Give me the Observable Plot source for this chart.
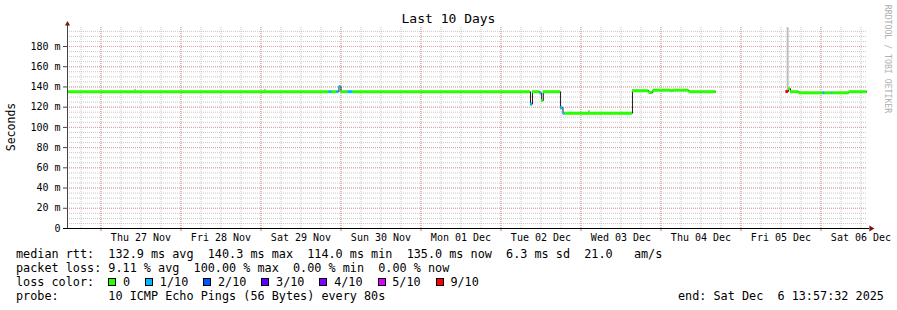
<!DOCTYPE html>
<html><head><meta charset="utf-8">
<script src="https://cdn.jsdelivr.net/npm/d3@7"></script>
<script src="https://cdn.jsdelivr.net/npm/@observablehq/plot@0.6"></script>
<style>
html,body{margin:0;padding:0;background:#fff}
#wrap{position:relative;width:897px;height:310px;background:#fff;overflow:hidden;font-family:"DejaVu Sans Mono",monospace;color:#000}
#chart{position:absolute;left:0;top:0}
#title{position:absolute;left:0;top:11px;width:897px;text-align:center;font-size:13px;line-height:15px;white-space:pre}
#ylab{position:absolute;left:11px;top:127px;transform:translate(-50%,-50%) rotate(-90deg);font-size:11.5px;line-height:13px;white-space:nowrap}
#wm{position:absolute;left:887px;top:59px;transform:translate(-50%,-50%) rotate(90deg);font-size:8.2px;line-height:9px;color:#b0b0b0;white-space:nowrap}
.row{position:absolute;left:16px;font-size:11.8px;line-height:14px;height:14px;white-space:pre}
.box{display:inline-block;width:6px;height:6px;border:1px solid #000;margin-right:6.7px;vertical-align:0px}
.lab{display:inline-block;margin-right:15px}
#end{position:absolute;left:678px;top:289px;font-size:11.8px;line-height:14px;white-space:pre}
</style>
</head><body>
<div id="wrap">
  <div id="chart"></div>
  <div id="title"></div>
  <div id="ylab"></div>
  <div id="wm"></div>
  <div id="legend"></div>
  <div id="end"></div>
</div>
<script>
// ---- data ----
const titleText = "Last 10 Days";
const yLabel = "Seconds";
const watermark = "RRDTOOL / TOBI OETIKER";
const rangeStart = "2025-11-26T13:57:32";
const rangeEnd = "2025-12-06T13:57:32";
const yTop = 198.8;
const yTicks = [0, 20, 40, 60, 80, 100, 120, 140, 160, 180];
const dayTicks = ["2025-11-27","2025-11-28","2025-11-29","2025-11-30","2025-12-01","2025-12-02","2025-12-03","2025-12-04","2025-12-05","2025-12-06"];

// median rtt step segments: start time, median (ms), lost pings of 10 (null median = no data)
const segStart = [
  "2025-11-26T13:58","2025-11-29T20:24","2025-11-29T21:18","2025-11-29T22:48","2025-11-29T23:24",
  "2025-11-30T00:00","2025-11-30T02:06","2025-11-30T03:36","2025-12-02T08:51","2025-12-02T09:27",
  "2025-12-02T11:42","2025-12-02T12:12","2025-12-02T12:42","2025-12-02T17:51","2025-12-02T18:36",
  "2025-12-02T19:12","2025-12-03T15:27","2025-12-03T20:24","2025-12-03T21:36","2025-12-04T03:00",
  "2025-12-04T03:36","2025-12-04T08:24","2025-12-04T16:30","2025-12-05T13:30","2025-12-05T14:15",
  "2025-12-05T14:51","2025-12-05T17:24","2025-12-06T00:36","2025-12-06T01:12","2025-12-06T03:18",
  "2025-12-06T03:36","2025-12-06T08:24"
];
const segMedian = [
  135.3,135.3,135.3,135.3,140.3,
  135.3,135.3,135.3,123.0,135.3,
  134.0,126.5,135.3,119.5,114.0,
  114.0,136.3,134.5,136.8,136.3,
  136.8,135.3,null,135.5,138.3,
  135.3,134.2,134.2,134.2,134.2,
  134.2,135.3
];
const segLoss = [
  0,1,0,1,1,
  0,1,0,1,0,
  1,0,0,1,1,
  0,0,0,0,0,
  0,0,10,9,0,
  0,0,1,0,1,
  0,0
];
const dataEnd = "2025-12-06T13:48";

// smoke (ping spread) bits
const smokeTime = ["2025-11-27T10:12","2025-11-29T01:12","2025-12-03T02:24","2025-12-05T14:00"];
const smokeLo = [136.2, 136.2, 114.8, 135.5];
const smokeHi = [137.6, 137.6, 116.6, 198.6];

// loss colour legend
const lossLevels = [0, 1, 2, 3, 4, 5, 9];
const lossLabels = ["0", "1/10", "2/10", "3/10", "4/10", "5/10", "9/10"];
const lossColors = ["#26ff00", "#00b8ff", "#0059ff", "#5e00ff", "#7e00ff", "#dd00ff", "#ff0000"];

const legendRtt = "median rtt:  132.9 ms avg  140.3 ms max  114.0 ms min  135.0 ms now  6.3 ms sd  21.0   am/s";
const legendLoss = "packet loss: 9.11 % avg  100.00 % max  0.00 % min  0.00 % now";
const legendLossHead = "loss color:  ";
const legendProbe = "probe:       10 ICMP Echo Pings (56 Bytes) every 80s";
const legendEnd = "end: Sat Dec  6 13:57:32 2025";

// ---- build ----
const P = s => new Date(s + (s.length <= 16 ? ":00Z" : "Z"));
const tStart = P(rangeStart), tEnd = P(rangeEnd), tDataEnd = P(dataEnd);

const segs = segStart.map((s, i) => ({
  start: P(s),
  end: i + 1 < segStart.length ? P(segStart[i + 1]) : tDataEnd,
  median: segMedian[i],
  loss: segLoss[i]
}));
const drawn = segs.filter(d => d.median != null);

const linePts = [];
segs.forEach((d, i) => {
  if (d.median == null) { linePts.push({t: d.start, v: NaN}); return; }
  linePts.push({t: d.start, v: d.median});
  const nx = segs[i + 1];
  if (!nx || nx.median == null) linePts.push({t: d.end, v: d.median});
});

const smoke = smokeTime.map((t, i) => ({t: P(t), lo: smokeLo[i], hi: smokeHi[i]}));

const days = dayTicks.map(d => P(d + "T00:00"));
const noons = days.map(d => d3.utcHour.offset(d, 12));
const sixHours = d3.utcHour.every(6).range(tStart, tEnd);
const minorY = d3.range(5, yTop, 5);

const chart = Plot.plot({
  width: 897, height: 310,
  marginLeft: 67, marginRight: 30, marginTop: 27, marginBottom: 82,
  style: {fontFamily: "DejaVu Sans Mono", fontSize: "10px", color: "#000", background: "transparent", overflow: "visible"},
  x: {type: "utc", domain: [tStart, tEnd]},
  y: {domain: [0, yTop]},
  color: {domain: lossLevels, range: lossColors},
  marks: [
    Plot.gridY(minorY, {stroke: "#c8c8c8", strokeOpacity: 1, strokeDasharray: "1,1"}),
    Plot.gridX(sixHours, {stroke: "#c8c8c8", strokeOpacity: 1, strokeDasharray: "1,1"}),
    Plot.gridY(yTicks.filter(d => d > 0), {stroke: "#e49a9a", strokeOpacity: 1, strokeDasharray: "1,1"}),
    Plot.gridX(days, {stroke: "#e49a9a", strokeOpacity: 1, strokeDasharray: "1,1"}),
    Plot.ruleX(smoke, {x: "t", y1: "lo", y2: "hi", stroke: "#bdbdbd", strokeWidth: 2}),
    Plot.line(linePts, {x: "t", y: "v", curve: "step-after", stroke: "#202020", strokeWidth: 1}),
    Plot.ruleY(drawn, {x1: "start", x2: "end", y: "median", stroke: "loss", strokeWidth: 3}),
    Plot.axisX(days, {tickSize: 3, tickFormat: () => "", stroke: "#d07070", label: null}),
    Plot.axisX(noons, {tickSize: 0, tickPadding: 5, tickFormat: d3.utcFormat("%a %d %b"), label: null, fontSize: 10}),
    Plot.axisY(yTicks, {tickSize: 4, tickPadding: 3, tickFormat: d => d === 0 ? "0" : d + " m", stroke: "#444", label: null, fontSize: 10}),
    Plot.ruleX([tStart], {stroke: "#444", insetTop: -3}),
    Plot.ruleY([0], {stroke: "#000", insetLeft: -4, insetRight: -2}),
    Plot.dot([tStart], {x: d => d, frameAnchor: "top", dy: -3.5, symbol: "triangle", r: 1.9, fill: "#7f1010", stroke: "none"}),
    Plot.dot([0], {y: d => d, frameAnchor: "right", dx: 3.5, symbol: "triangle", rotate: 90, r: 2.2, fill: "#7f1010", stroke: "none"})
  ]
});
document.getElementById("chart").appendChild(chart);

document.getElementById("title").textContent = titleText;
document.getElementById("ylab").textContent = yLabel;
document.getElementById("wm").textContent = watermark;
document.getElementById("end").textContent = legendEnd;

const lg = document.getElementById("legend");
function addRow(top) {
  const r = document.createElement("div");
  r.className = "row"; r.style.top = top + "px";
  lg.appendChild(r);
  return r;
}
addRow(247).textContent = legendRtt;
addRow(261).textContent = legendLoss;
const r3 = addRow(275);
const head = document.createElement("span");
head.textContent = legendLossHead;
r3.appendChild(head);
lossLevels.forEach((lv, i) => {
  const b = document.createElement("span");
  b.className = "box"; b.style.background = lossColors[i];
  r3.appendChild(b);
  const t = document.createElement("span");
  t.className = "lab"; t.textContent = lossLabels[i];
  r3.appendChild(t);
});
addRow(289).textContent = legendProbe;
</script>
</body></html>
